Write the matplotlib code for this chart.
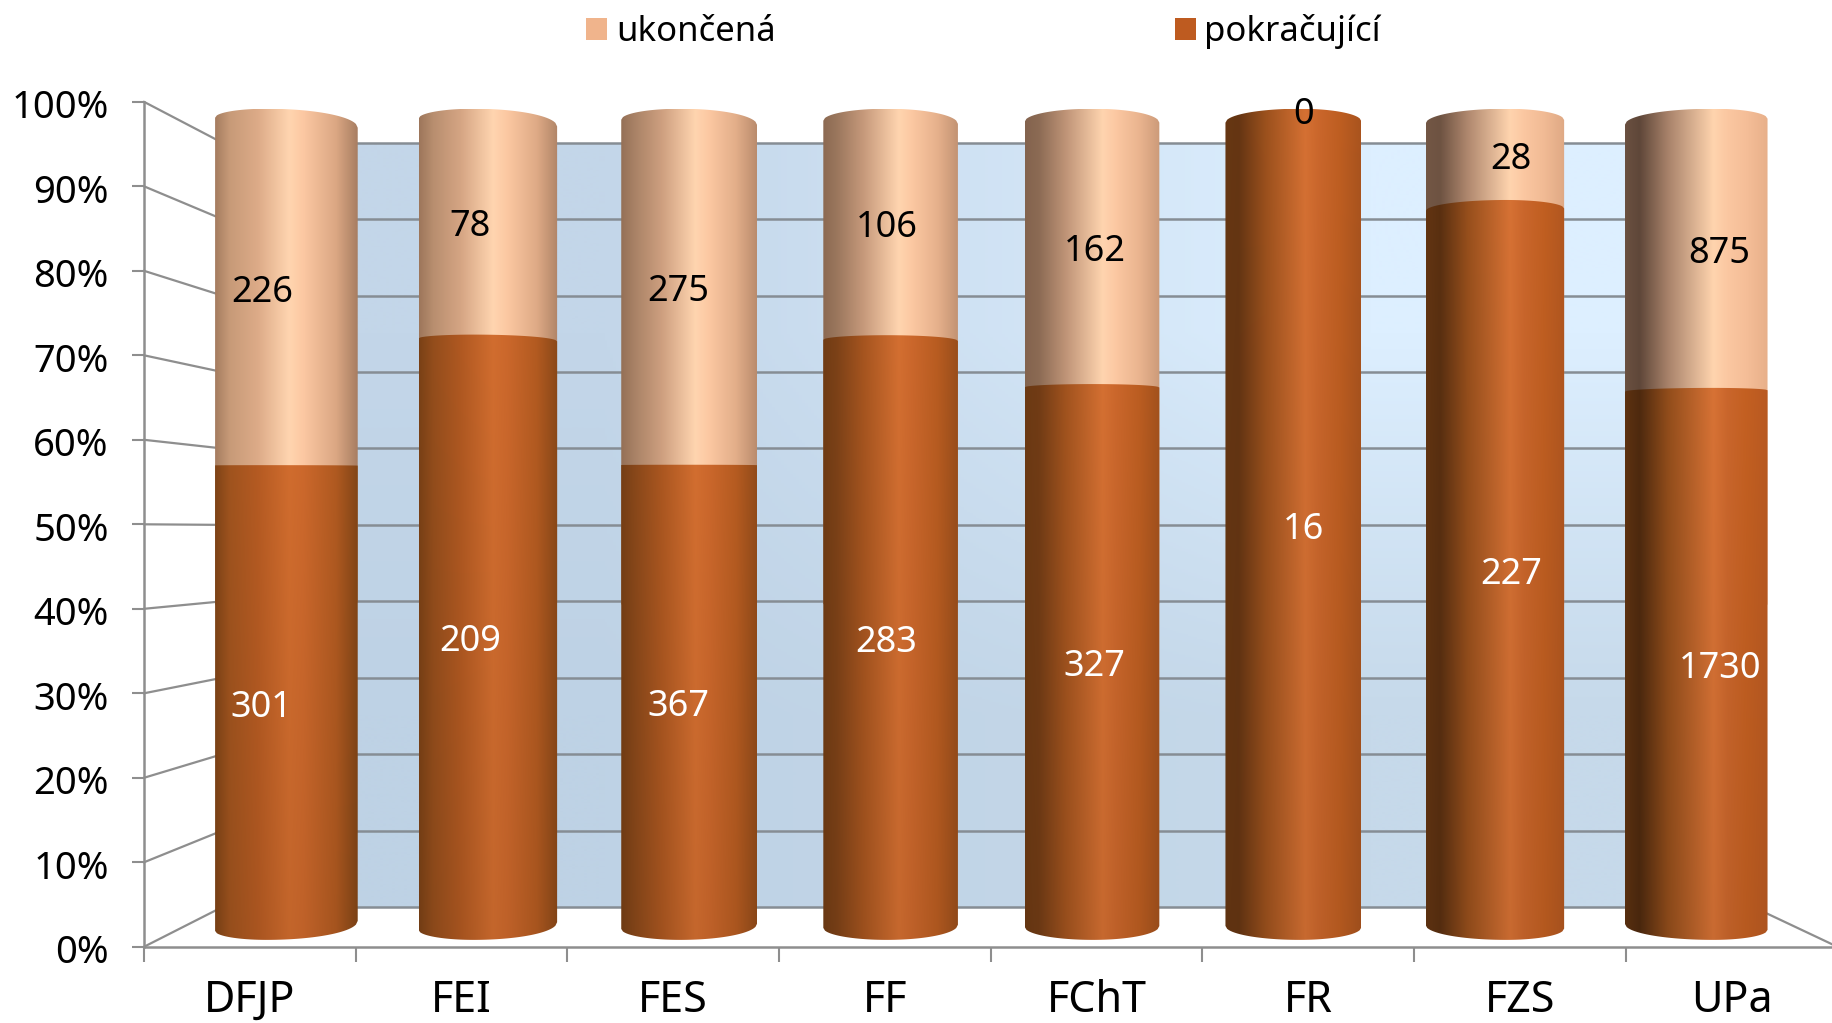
"""Stacked 100 % cylinder chart: continuing vs. finished studies per faculty."""
import matplotlib

matplotlib.use("Agg")
import matplotlib.pyplot as plt
import numpy as np
from matplotlib.colors import to_rgb
from matplotlib.patches import ConnectionPatch, Patch, Polygon
from matplotlib.transforms import ScaledTranslation

categories = ["DFJP", "FEI", "FES", "FF", "FChT", "FR", "FZS", "UPa"]
pokracujici = [301, 209, 367, 283, 327, 16, 227, 1730]
ukoncena = [226, 78, 275, 106, 162, 0, 28, 875]
percent_ticks = [0, 10, 20, 30, 40, 50, 60, 70, 80, 90, 100]

W, H = 1833, 1023
SHRINK = 1833 / 1568  # layout below was measured on the 1568 px wide view
GRAY = "#8E8E8E"
WALL_GRAY = "#868D94"
FONT = "Noto Sans"

plt.rcParams["font.family"] = [FONT, "DejaVu Sans"]

fig = plt.figure(figsize=(W / 100, H / 100), dpi=100, facecolor="white")


def box_axes(left, right, top, bottom, zorder):
    """Axes covering a box given in measured px, transparent and bare."""
    x0, x1 = left * SHRINK / W, right * SHRINK / W
    y0, y1 = 1 - bottom * SHRINK / H, 1 - top * SHRINK / H
    ax = fig.add_axes([x0, y0, x1 - x0, y1 - y0], zorder=zorder)
    ax.patch.set_alpha(0)
    return ax


# back wall
ax_wall = box_axes(190, 1500, 122, 776, 1)
corners = np.array([[to_rgb("#C3D6E9"), to_rgb("#DDEFFF")],
                    [to_rgb("#BED2E5"), to_rgb("#C6D9EA")]])
ax_wall.imshow(corners, extent=(0, 1, 0, 100), aspect="auto", interpolation="bilinear", zorder=0)
ax_wall.set_xlim(0, 1)
ax_wall.set_ylim(0, 100)
for v in percent_ticks:
    ax_wall.axhline(v, color=WALL_GRAY, lw=1.8, zorder=1, clip_on=False)
ax_wall.axis("off")

# front axis with the real ticks
ax_front = box_axes(123, 1572, 87, 810, 2)
ax_front.set_xlim(0, 8)
ax_front.set_ylim(0, 100)
ax_front.set_yticks(percent_ticks)
ax_front.set_yticklabels([f"{v}%" for v in percent_ticks], fontsize=27.5)
ax_front.set_xticks(range(9))
ax_front.set_xticklabels([])
ax_front.set_xticks([i + 0.5 for i in range(len(categories))], minor=True)
ax_front.set_xticklabels(categories, minor=True, fontsize=31)
ax_front.tick_params(axis="y", length=8.3, width=1.5, color=GRAY, pad=17)
ax_front.tick_params(axis="x", which="major", length=10.8, width=1.5, color=GRAY)
ax_front.tick_params(axis="x", which="minor", length=0, pad=23)
nudge = ScaledTranslation(0, -1.5 / 72, fig.dpi_scale_trans)
for label in ax_front.get_yticklabels():
    label.set_transform(label.get_transform() + nudge)
for side in ("top", "right"):
    ax_front.spines[side].set_visible(False)
for side in ("left", "bottom"):
    ax_front.spines[side].set_color(GRAY)
    ax_front.spines[side].set_linewidth(1.8)

# side wall and floor edges, front axis to back wall
for v in percent_ticks:
    fig.add_artist(ConnectionPatch((0, v), (0, v), "data", "data", axesA=ax_front, axesB=ax_wall,
                                   color=GRAY, lw=1.6, zorder=2.5))
fig.add_artist(ConnectionPatch((8, 0), (1, 0), "data", "data", axesA=ax_front, axesB=ax_wall,
                               color=GRAY, lw=1.6, zorder=2.5))

# cylinders: y is the share 0..1, x the category index
unit = (1451 - 245) / 7
ax_bar = box_axes(245 - unit, 1451 + unit, 93, 804, 3)
ax_bar.set_axis_off()
y_px = 711 * SHRINK  # full px per share 1.0


def shade_stops(left_stops, right_stops, t):
    pos = np.array([s[0] for s in left_stops]) * (1 - t) + np.array([s[0] for s in right_stops]) * t
    col = np.array([to_rgb(s[1]) for s in left_stops]) * (1 - t) + np.array([to_rgb(s[1]) for s in right_stops]) * t
    return pos, col


ORANGE_L = [(0, "#7A4116"), (0.1, "#99501D"), (0.3, "#AE5721"), (0.52, "#C8682C"), (0.62, "#C4642A"),
            (0.85, "#A9561F"), (1, "#7E4316")]
ORANGE_R = [(0, "#5A3010"), (0.1, "#4B280E"), (0.3, "#8C4A1A"), (0.62, "#CF6E33"), (0.72, "#C2622A"),
            (0.85, "#BC5C20"), (1, "#B25620")]
LIGHT_L = [(0, "#A67D60"), (0.1, "#C79A78"), (0.3, "#DDAB88"), (0.52, "#FFD5B0"), (0.62, "#FCC8A2"),
           (0.85, "#DBA783"), (1, "#A87E62")]
LIGHT_R = [(0, "#6A5040"), (0.1, "#5F4739"), (0.3, "#A8826A"), (0.62, "#FFD4AE"), (0.72, "#FBC7A1"),
           (0.85, "#F5BE98"), (1, "#E8B08A")]


def gradient(left_stops, right_stops, t, top_gain, bottom_gain):
    pos, col = shade_stops(left_stops, right_stops, t)
    xs = np.linspace(0, 1, 128)
    row = np.column_stack([np.interp(xs, pos, col[:, c]) for c in range(3)])
    gain = np.linspace(top_gain, bottom_gain, 64)[:, None, None]
    return np.clip(row[None, :, :] * gain, 0, 1)


def edge(center, half, apex, d_left, d_right, v, n=80):
    """Curved rim of a cylinder at share v; returns left-to-right points."""
    eye = 0.56
    s = (v - eye) / (1 - eye) if v >= eye else (v - eye) / eye
    x_px = np.linspace(-1, 1, n)
    drop = np.zeros(n)
    for k, t in enumerate(x_px):
        u = (t - apex) / (apex + 1) if t < apex else (t - apex) / (1 - apex)
        d = d_left if t < apex else d_right
        drop[k] = d * (1 - np.sqrt(max(1 - u * u, 0)))
    return center + x_px * half, v - s * drop / y_px


n_bars = len(categories)
for i, (cont, done) in enumerate(zip(pokracujici, ukoncena)):
    t = i / (n_bars - 1)
    share = cont / (cont + done)
    half = (115 + 7 * (abs(i - 3.5) / 3.5) ** 2) / 2 / unit
    apex = (0.36 + 0.26 * t) * 2 - 1
    d_left, d_right = 9 + 7 * t, 19 - 9 * t

    segments = []
    if done > 0:
        segments.append((0.4, 1.0, LIGHT_L, LIGHT_R, 1.0, 1.0))
    segments.append((0.0, share, ORANGE_L, ORANGE_R, 1.04, 0.97))
    for lo, hi, stops_l, stops_r, g_top, g_bot in segments:
        top_x, top_y = edge(i, half, apex, d_left, d_right, hi)
        bot_x, bot_y = edge(i, half, apex, d_left, d_right, lo)
        pts = np.column_stack([np.r_[top_x, bot_x[::-1]], np.r_[top_y, bot_y[::-1]]])
        poly = Polygon(pts, closed=True, transform=ax_bar.transData, fc="none", ec="none")
        ax_bar.add_patch(poly)
        im = ax_bar.imshow(gradient(stops_l, stops_r, t, g_top, g_bot),
                           extent=(i - half, i + half, lo - 0.04, hi + 0.01),
                           aspect="auto", interpolation="bilinear", zorder=2 + (hi == share))
        im.set_clip_path(poly)
ax_bar.set_xlim(-1, n_bars)
ax_bar.set_ylim(0, 1)

# value labels sit on their own slightly narrower grid
ax_label = box_axes(224, 1471, 98, 808, 4)
ax_label.set_axis_off()
ax_label.set_xlim(0, n_bars - 1)
ax_label.set_ylim(0, 1)
for i, (cont, done) in enumerate(zip(pokracujici, ukoncena)):
    share = cont / (cont + done)
    ax_label.text(i, share / 2, str(cont), color="white", ha="center", va="center", fontsize=26)
    ax_label.text(i, share + (1 - share) / 2, str(done), color="black", ha="center", va="center", fontsize=26)

handles = [Patch(fc="#F0B48C", label="ukončená"), Patch(fc="#BE5B20", label="pokračující")]
fig.legend(handles=handles, ncol=2, frameon=False, fontsize=25, loc="center",
           bbox_to_anchor=(841.5 * SHRINK / W, 1 - 27 * SHRINK / H), handlelength=0.6, handleheight=0.6,
           handletextpad=0.25, columnspacing=11.5, borderpad=0, borderaxespad=0)

fig.savefig("out.png", dpi=100)
plt.close(fig)
